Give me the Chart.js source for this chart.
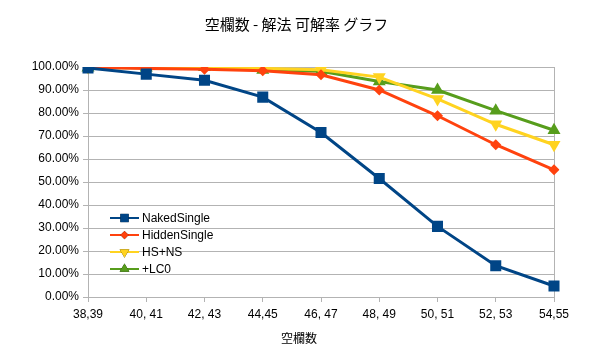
<!DOCTYPE html>
<html>
<head>
<meta charset="utf-8">
<script src="https://cdn.jsdelivr.net/npm/chart.js@4"></script>
<style>
  html, body { margin: 0; padding: 0; background: #fff; }
  #wrap { width: 593px; height: 349px; position: relative; }
</style>
</head>
<body>
<div id="wrap"><canvas id="chart" width="593" height="349"></canvas></div>
<script>
// categories (空欄数)
const labels = ["38,39", "40, 41", "42, 43", "44,45", "46, 47", "48, 49", "50, 51", "52, 53", "54,55"];

// solve rate in percent
const nakedSingle = [99.6, 96.9, 94.2, 86.9, 71.5, 51.5, 30.7, 13.6, 4.8];
const hiddenSingle = [99.9, 99.4, 99.0, 98.4, 96.6, 90.0, 78.8, 66.2, 55.3];
const hsNs = [100, 100, 99.9, 99.4, 98.8, 95.6, 86.1, 75.1, 66.2];
const lc0 = [99.7, 99.7, 99.9, 98.7, 98.1, 93.7, 90.0, 81.0, 72.5];

const seriesNames = ["NakedSingle", "HiddenSingle", "HS+NS", "+LC0"];
const colors = ["#004586", "#ff420e", "#ffd320", "#579d1c"];
const xTitle = "空欄数";

const tickFont = { family: "Liberation Sans", size: 12 };

// legend drawn inside the plot, lower left
const insideLegend = {
    id: "insideLegend",
    afterDatasetsDraw(chart) {
        const ctx = chart.ctx;
        const x0 = 110, x1 = 139, tx = 142;
        const ys = [218, 235, 252, 269];
        chart.data.datasets.forEach((ds, i) => {
            const y = ys[i];
            ctx.save();
            ctx.strokeStyle = ds.borderColor;
            ctx.lineWidth = 2;
            ctx.beginPath();
            ctx.moveTo(x0, y);
            ctx.lineTo(x1, y);
            ctx.stroke();
            Chart.helpers.drawPoint(ctx, {
                pointStyle: ds.pointStyle,
                radius: ds.pointRadius * 0.75,
                rotation: ds.pointRotation || 0,
                borderWidth: 0
            }, (x0 + x1) / 2, y);
            ctx.fillStyle = ds.borderColor;
            ctx.fill();
            ctx.fillStyle = "#000";
            ctx.font = "12px 'Liberation Sans'";
            ctx.textBaseline = "middle";
            ctx.textAlign = "left";
            ctx.fillText(ds.label, tx, y + 1);
            ctx.restore();
        });
    }
};

// right border of plot area + x axis title centred on the page
const extras = {
    id: "extras",
    beforeDatasetsDraw(chart) {
        const a = chart.chartArea;
        const ctx = chart.ctx;
        ctx.save();
        ctx.strokeStyle = "#b3b3b3";
        ctx.lineWidth = 1;
        ctx.beginPath();
        ctx.moveTo(Math.round(a.right) + 0.5, a.top);
        ctx.lineTo(Math.round(a.right) + 0.5, a.bottom);
        ctx.stroke();
        ctx.fillStyle = "#000";
        ctx.font = "12px 'Noto Sans CJK JP'";
        ctx.textAlign = "center";
        ctx.textBaseline = "middle";
        ctx.fillText(xTitle, 299, 338);
        ctx.restore();
    }
};

function makeSet(i, data, style, radius, rotation) {
    return {
        label: seriesNames[i],
        data: data,
        borderColor: colors[i],
        backgroundColor: colors[i],
        borderWidth: 3,
        pointStyle: style,
        pointRadius: radius,
        pointRotation: rotation,
        pointBorderWidth: 0,
        pointBackgroundColor: colors[i],
        tension: 0
    };
}

new Chart(document.getElementById("chart"), {
    type: "line",
    data: {
        labels: labels,
        datasets: [
            makeSet(0, nakedSingle, "rect", 7.8, 0),
            makeSet(1, hiddenSingle, "rectRot", 5.5, 0),
            makeSet(2, hsNs, "triangle", 7.5, 180),
            makeSet(3, lc0, "triangle", 7.5, 0)
        ]
    },
    options: {
        responsive: false,
        animation: false,
        layout: { padding: { left: 0, right: 0, top: 6, bottom: 0 } },
        plugins: {
            legend: { display: false },
            tooltip: { enabled: false },
            title: {
                display: true,
                text: "空欄数 - 解法 可解率 グラフ",
                color: "#000",
                font: { family: "Noto Sans CJK JP", size: 15, weight: "normal" },
                padding: { top: 9, bottom: 34 }
            }
        },
        scales: {
            x: {
                offset: false,
                grid: { display: true, drawOnChartArea: false, color: "#b3b3b3", tickLength: 5 },
                border: { color: "#b3b3b3" },
                ticks: { color: "#000", font: tickFont, maxRotation: 0, autoSkip: false, padding: 5 },
                afterFit: s => { s.height = 52; }
            },
            y: {
                min: 0,
                max: 100,
                grid: { color: "#b3b3b3", tickLength: 5 },
                border: { color: "#b3b3b3" },
                ticks: {
                    stepSize: 10,
                    color: "#000",
                    font: tickFont,
                    padding: 4,
                    callback: v => v.toFixed(2) + "%"
                },
                afterFit: s => { s.width = 88; }
            },
            // empty spacer on the right so the title stays centred on the canvas
            ySpacer: {
                position: "right",
                min: 0,
                max: 100,
                grid: { display: false },
                border: { display: false },
                ticks: { display: false },
                afterFit: s => { s.width = 39; }
            }
        }
    },
    plugins: [extras, insideLegend]
});
</script>
</body>
</html>
